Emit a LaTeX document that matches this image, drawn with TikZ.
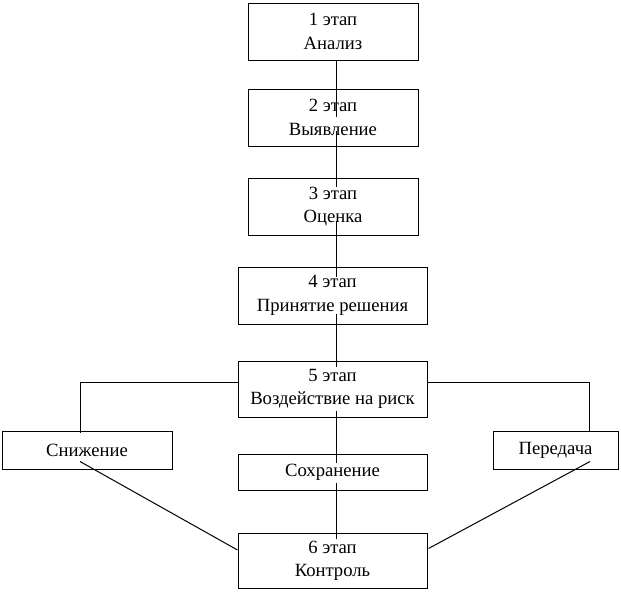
\documentclass[tikz,border=0pt]{standalone}
\usepackage{fontspec}
\setmainfont{Liberation Serif}
\usetikzlibrary{calc}
\tikzset{
  box/.style={draw=black, line width=0.75pt, fill=white, align=center, inner sep=0pt,
    font=\fontsize{14}{17.5}\selectfont},
  link/.style={draw=black, line width=0.75pt}
}
\begin{document}
\begin{tikzpicture}[x=0.75pt,y=-0.75pt]
\useasboundingbox (0,0) rectangle (621,593);
\node[box, minimum width=170*0.75pt, minimum height=57*0.75pt] (b1) at (333,31.5) {1 этап\\Анализ};
\node[box, minimum width=170*0.75pt, minimum height=57*0.75pt] (b2) at (333,117.5) {2 этап\\Выявление};
\node[box, minimum width=170*0.75pt, minimum height=57*0.75pt] (b3) at (333,206.5) {3 этап\\Оценка};
\node[box, minimum width=189*0.75pt, minimum height=57*0.75pt] (b4) at (332.5,295.5) {4 этап\\Принятие решения};
\node[box, minimum width=189*0.75pt, minimum height=56*0.75pt] (b5) at (332.5,389) {5 этап\\Воздействие на риск};
\node[box, minimum width=189*0.75pt, minimum height=36*0.75pt] (so) at (332.5,472) {Сохранение};
\node[box, minimum width=189*0.75pt, minimum height=55*0.75pt] (b6) at (332.5,560.5) {6 этап\\Контроль};
\node[box, minimum width=170*0.75pt, minimum height=38*0.75pt] (sn) at (87,450) {Снижение};
\node[box, minimum width=125*0.75pt, minimum height=38*0.75pt] (pe) at (555.5,450) {Передача};
\coordinate (spine) at (336,0);
% central spine segments
\draw[link] (b1.south -| spine) -- ($(b2.north -| spine)+(0,28)$);
\draw[link] ($(b2.south -| spine)+(0,-16)$) -- ($(b3.north -| spine)+(0,9)$);
\draw[link] ($(b3.south -| spine)+(0,-15)$) -- ($(b4.north -| spine)+(0,10)$);
\draw[link] ($(b4.south -| spine)+(0,-11)$) -- ($(b5.north -| spine)+(0,6)$);
\draw[link] ($(b5.south -| spine)+(0,-7)$) -- ($(so.north -| spine)+(0,9)$);
\draw[link] ($(so.south -| spine)+(0,-8)$) -- ($(b6.north -| spine)+(0,6)$);
% side branches
\draw[link] ($(b5.west)+(0,-7)$) -| ($(sn.north)+(-7,2)$);
\draw[link] ($(b5.east)+(0,-7)$) -| ($(pe.north)+(34,0)$);
\draw[link] ($(sn.north)+(-7,31)$) -- ($(b6.west)+(0,-10.5)$);
\draw[link] ($(pe.north)+(34.5,31)$) -- ($(b6.east)+(1,-12)$);
\end{tikzpicture}
\end{document}
